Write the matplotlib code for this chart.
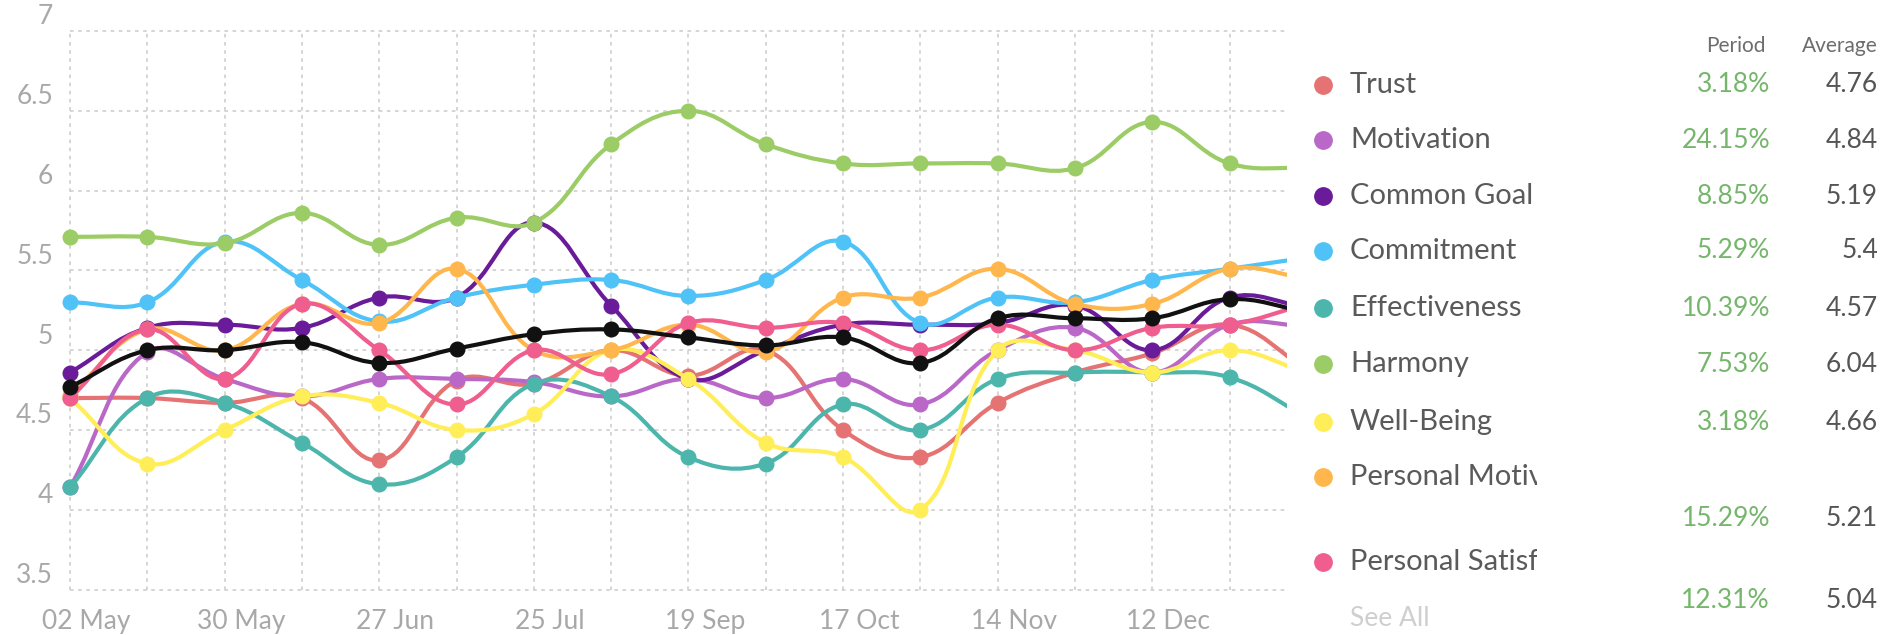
import numpy as np
import matplotlib
matplotlib.use("Agg")
from matplotlib import pyplot as plt
from matplotlib.path import Path
from matplotlib.patches import PathPatch
from matplotlib.transforms import Bbox, TransformedBbox

plt.rcParams['font.family'] = ['Lato', 'DejaVu Sans']

# x categories (only every other one is labelled, the last one is cut off by the panel)
dates = ["02 May", "", "30 May", "", "27 Jun", "", "25 Jul", "", "19 Sep", "",
         "17 Oct", "", "14 Nov", "", "12 Dec", "", ""]
y_ticks = [3.5, 4, 4.5, 5, 5.5, 6, 6.5, 7]

trust = [4.70, 4.70, 4.67, 4.70, 4.31, 4.81, 4.79, 5.00, 4.84, 5.00, 4.50, 4.33, 4.67, 4.86, 4.98, 5.16, 4.88]
motivation = [4.14, 4.99, 4.82, 4.71, 4.82, 4.82, 4.80, 4.71, 4.82, 4.70, 4.82, 4.66, 5.00, 5.14, 4.86, 5.16, 5.15]
common_goal = [4.86, 5.14, 5.16, 5.14, 5.33, 5.33, 5.80, 5.28, 4.82, 5.00, 5.16, 5.16, 5.17, 5.28, 5.00, 5.33, 5.27]
commitment = [5.30, 5.30, 5.68, 5.44, 5.18, 5.33, 5.41, 5.44, 5.34, 5.44, 5.68, 5.17, 5.33, 5.30, 5.44, 5.51, 5.58]
effectiveness = [4.14, 4.70, 4.67, 4.42, 4.16, 4.33, 4.79, 4.71, 4.33, 4.29, 4.66, 4.50, 4.82, 4.86, 4.86, 4.83, 4.58]
harmony = [5.71, 5.71, 5.67, 5.86, 5.66, 5.83, 5.80, 6.29, 6.50, 6.29, 6.17, 6.17, 6.17, 6.14, 6.43, 6.17, 6.14]
well_being = [4.70, 4.29, 4.50, 4.71, 4.67, 4.50, 4.60, 5.00, 4.82, 4.42, 4.33, 4.00, 5.00, 5.00, 4.86, 5.00, 4.86]
personal_motivation = [4.72, 5.13, 5.00, 5.29, 5.17, 5.51, 5.00, 5.00, 5.16, 4.99, 5.33, 5.33, 5.51, 5.29, 5.29, 5.51, 5.45]
personal_satisfaction = [4.70, 5.13, 4.82, 5.29, 5.00, 4.66, 5.00, 4.85, 5.17, 5.14, 5.17, 5.00, 5.16, 5.00, 5.14, 5.16, 5.29]
overall = [4.77, 5.00, 5.00, 5.05, 4.92, 5.01, 5.10, 5.13, 5.08, 5.03, 5.08, 4.92, 5.20, 5.20, 5.20, 5.32, 5.24]

legend_names = ["Trust", "Motivation", "Common Goal", "Commitment", "Effectiveness",
                "Harmony", "Well-Being", "Personal Motivation", "Personal Satisfaction"]
period_change = ["3.18%", "24.15%", "8.85%", "5.29%", "10.39%", "7.53%", "3.18%", "15.29%", "12.31%"]
averages = ["4.76", "4.84", "5.19", "5.4", "4.57", "6.04", "4.66", "5.21", "5.04"]

colors = ["#e57373", "#ba68c8", "#6a1b9a", "#4fc3f7", "#4db6ac",
          "#9ccc65", "#ffee58", "#ffb74d", "#ef5e8e"]
series = [trust, motivation, common_goal, commitment, effectiveness,
          harmony, well_being, personal_motivation, personal_satisfaction]

W, H = 1894, 635
PX_X = 77.3    # pixels per category
PX_Y = 159.6   # pixels per unit


def smooth_path(xs, ys, t=0.4):
    # chart.js style cubic spline, computed in pixel space
    px = np.asarray(xs, float) * PX_X
    py = np.asarray(ys, float) * PX_Y
    n = len(px)
    c_prev, c_next = [], []
    for k in range(n):
        a = max(k - 1, 0)
        c = min(k + 1, n - 1)
        d01 = np.hypot(px[k] - px[a], py[k] - py[a])
        d12 = np.hypot(px[c] - px[k], py[c] - py[k])
        tot = d01 + d12
        s01 = d01 / tot if tot else 0
        s12 = d12 / tot if tot else 0
        dx = px[c] - px[a]
        dy = py[c] - py[a]
        c_prev.append((px[k] - t * s01 * dx, py[k] - t * s01 * dy))
        c_next.append((px[k] + t * s12 * dx, py[k] + t * s12 * dy))
    verts = [(px[0], py[0])]
    codes = [Path.MOVETO]
    for k in range(1, n):
        verts += [c_next[k - 1], c_prev[k], (px[k], py[k])]
        codes += [Path.CURVE4] * 3
    verts = np.array(verts) / [PX_X, PX_Y]
    return Path(verts, codes)


fig = plt.figure(figsize=(W / 100, H / 100), dpi=100)

# chart area: left edge of figure to x=1287 px, full height
x0_px, x1_px = 0, 1287
ax = fig.add_axes([x0_px / W, 0, (x1_px - x0_px) / W, 1])
ax.set_xlim((x0_px - 70) / PX_X, (x1_px - 70) / PX_X)
top_v = 7 + 31 / PX_Y
ax.set_ylim(top_v - H / PX_Y, top_v)
ax.axis('off')

x = np.arange(len(dates))

# dotted grid
grid_kw = dict(color="#d2d2d2", lw=1.3, linestyle=(0, (2, 2.5)), zorder=1)
ax.hlines(y_ticks, 0, len(dates) - 1, **grid_kw)
ax.vlines(x, y_ticks[0], y_ticks[-1], **grid_kw)

for v in y_ticks:
    ax.text(-0.22, v + 0.01, "%g" % v, ha="right", va="bottom",
            fontsize=19, color="#a8a8a8")

for i, lab in enumerate(dates):
    if lab:
        ax.text(i + 0.21, 3.297, lab, ha="center", va="center", fontsize=19,
                color="#a8a8a8")

all_series = series + [overall]
all_colors = colors + ["#111111"]
for k, (vals, col) in enumerate(zip(all_series, all_colors)):
    ax.add_patch(PathPatch(smooth_path(x, vals), fill=False, edgecolor=col,
                           lw=3.0, zorder=2 + 0.02 * k, capstyle="round"))
    ax.plot(x, vals, "o", ms=10.5, color=col, mec=col, zorder=2.01 + 0.02 * k)

# legend panel in pixel coordinates
lg = fig.add_axes([1290 / W, 0, (W - 1290) / W, 1])
lg.set_xlim(1290, W)
lg.set_ylim(H, 0)
lg.axis('off')

lg.text(1766, 46, "Period", ha="right", va="center", fontsize=15, color="#6d6d6d")
lg.text(1878, 46, "Average", ha="right", va="center", fontsize=15, color="#6d6d6d")

label_y = [85, 140, 196, 251, 308, 364, 422, 477, 562]
value_y = [85, 140, 196, 251, 308, 364, 422, 519, 600]
clip = TransformedBbox(Bbox([[1290, 0], [1537, H]]), lg.transData)
for name, per, avg, col, ly, vy in zip(legend_names, period_change, averages,
                                       colors, label_y, value_y):
    lg.plot(1323, ly, "o", ms=12.5, color=col, mec=col)
    t = lg.text(1350, ly, name, ha="left", va="center", fontsize=21, color="#5a5a5a")
    t.set_clip_box(clip)
    t.set_clip_on(True)
    lg.text(1770, vy, per, ha="right", va="center", fontsize=19, color="#76b66c")
    lg.text(1878, vy, avg, ha="right", va="center", fontsize=19, color="#555555")

lg.text(1350, 618, "See All", ha="left", va="center", fontsize=19, color="#cfcfcf")

fig.savefig("out.png", dpi=100, facecolor="white")
